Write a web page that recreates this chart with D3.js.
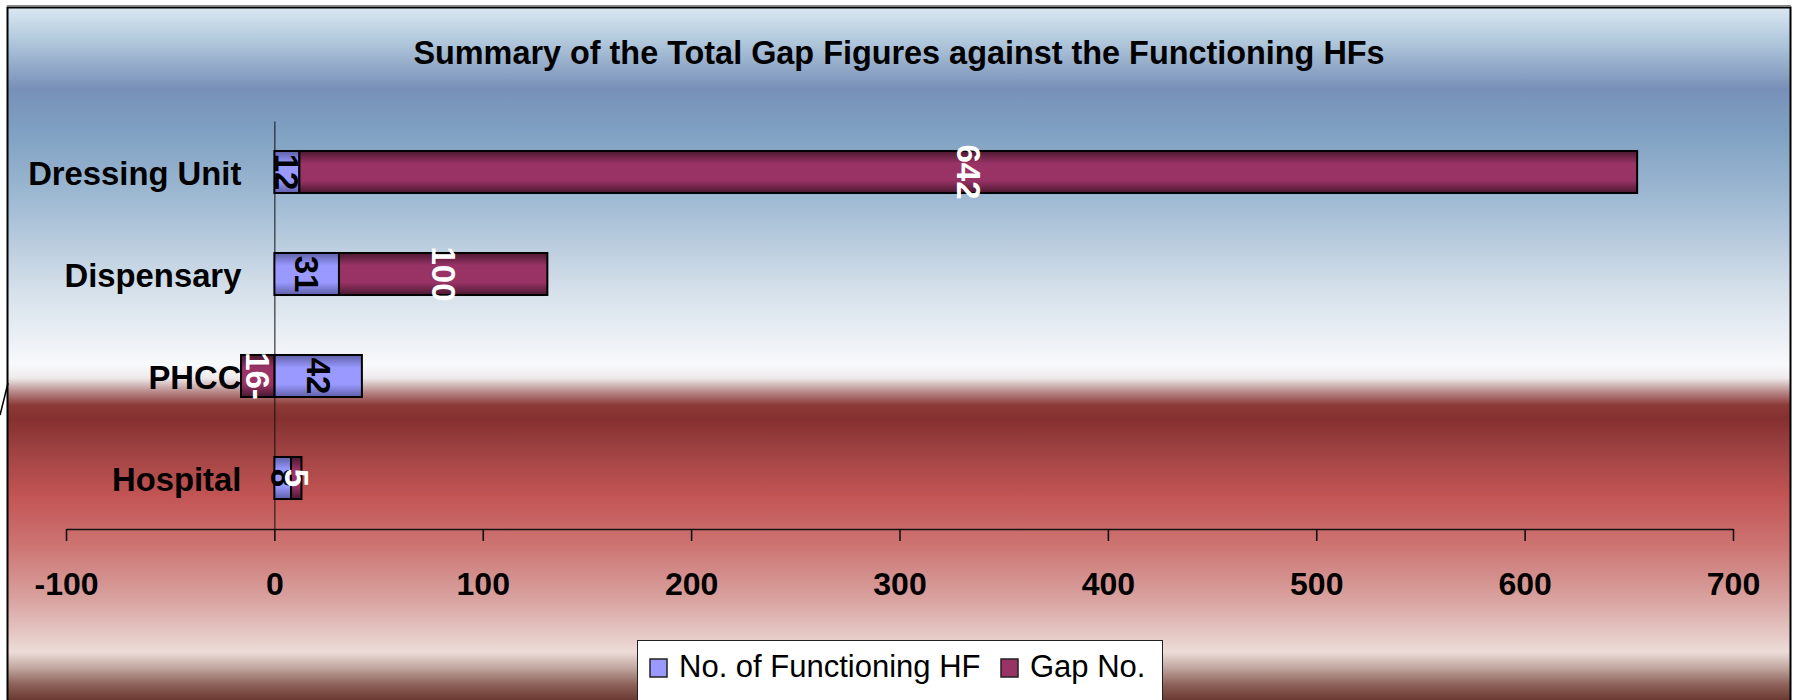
<!DOCTYPE html>
<html>
<head>
<meta charset="utf-8">
<script src="https://cdn.jsdelivr.net/npm/d3@7/dist/d3.min.js"></script>
<style>
  body { margin: 0; background: #fff; }
  svg { display: block; font-family: "Liberation Sans", Arial, sans-serif; }
  .axis text { font-size: 32px; font-weight: bold; fill: #000; }
  .axis.y text { font-size: 32.8px; }
  .axis path, .axis line { stroke: #111; }
</style>
</head>
<body>
<div class="chart"></div>
<script>
// Data
const categories = ["Dressing Unit", "Dispensary", "PHCC", "Hospital"];
const functioning = [12, 31, 42, 8];
const gap = [642, 100, -16, 5];
const seriesNames = ["No. of Functioning HF", "Gap No."];
const xTicks = [-100, 0, 100, 200, 300, 400, 500, 600, 700];

// Dimensions
const W = 1800, H = 700;
const plot = {left: 66, right: 1733, top: 121, bottom: 529};

// Scales
const xScale = d3.scaleLinear()
    .domain([-100, 700])
    .range([plot.left, plot.right]);
const yScale = d3.scaleBand()
    .domain(categories)
    .range([plot.top, plot.bottom])
    .paddingInner(0.588)
    .paddingOuter(0.294);

const rows = categories.map((c, i) => ({category: c, func: functioning[i], gap: gap[i]}));
const stacked = d3.stack()
    .keys(["func", "gap"])
    .offset(d3.stackOffsetDiverging)(rows);

// Append
const svg = d3.select(".chart").append("svg")
    .attr("width", W)
    .attr("height", H);
const defs = svg.append("defs");

// background gradient, blue sky over red
const bgStops = [
  [7, "#dbe8f2"], [40, "#b2c9dd"], [89, "#7890b8"], [130, "#7fa0c2"],
  [200, "#9fbad3"], [290, "#d5e0ea"], [365, "#f8f9fb"], [378, "#eeeaec"],
  [392, "#b88888"], [405, "#8c3a38"], [418, "#853030"], [455, "#a24444"],
  [495, "#c25454"], [545, "#cc7472"], [600, "#d9a3a0"], [652, "#ecdcd8"],
  [668, "#c0a69e"], [685, "#8c6058"], [700, "#6a3a32"]
];
const bg = defs.append("linearGradient")
    .attr("id", "bg")
    .attr("gradientUnits", "userSpaceOnUse")
    .attr("x1", 0).attr("x2", 0).attr("y1", 0).attr("y2", H);
bg.selectAll("stop").data(bgStops).enter().append("stop")
    .attr("offset", d => d[0] / H)
    .attr("stop-color", d => d[1]);

// tube-like fills for the two series
const barColors = {func: ["#5f5fa8", "#9999ff"], gap: ["#4a1830", "#993366"]};
Object.keys(barColors).forEach(k => {
  const g = defs.append("linearGradient")
      .attr("id", "fill-" + k)
      .attr("x1", 0).attr("x2", 0).attr("y1", 0).attr("y2", 1);
  [[0, 0], [0.3, 1], [0.7, 1], [1, 0]].forEach(s => {
    g.append("stop").attr("offset", s[0]).attr("stop-color", barColors[k][s[1]]);
  });
});

svg.append("line")
    .attr("x1", 7).attr("x2", 1791).attr("y1", 5.5).attr("y2", 5.5)
    .attr("stroke", "#888").attr("stroke-width", 1);
svg.append("rect")
    .attr("x", 7.5).attr("y", 7.5)
    .attr("width", 1783).attr("height", 710)
    .attr("fill", "url(#bg)")
    .attr("stroke", "#000")
    .attr("stroke-width", 2);
svg.append("line")
    .attr("x1", 8).attr("y1", 383).attr("x2", 0).attr("y2", 415)
    .attr("stroke", "#000").attr("stroke-width", 1.5);

// Title
svg.append("text")
    .attr("x", 899)
    .attr("y", 64)
    .attr("text-anchor", "middle")
    .style("font-size", "32.4px")
    .style("font-weight", "bold")
    .text("Summary of the Total Gap Figures against the Functioning HFs");

// Axes
const xAxis = svg.append("g")
    .attr("class", "axis x")
    .attr("transform", "translate(0," + plot.bottom + ")")
    .call(d3.axisBottom(xScale)
      .tickValues(xTicks)
      .tickSizeInner(12)
      .tickSizeOuter(0)
      .tickPadding(31)
      .tickFormat(d => String(d)));
xAxis.select(".domain").attr("stroke-width", 1.6);
xAxis.selectAll(".tick line").attr("stroke-width", 1.6);

const yAxis = svg.append("g")
    .attr("class", "axis y")
    .attr("transform", "translate(" + xScale(0) + ",0)")
    .call(d3.axisLeft(yScale).tickSize(0).tickPadding(33));
yAxis.select(".domain").attr("stroke-width", 1);
yAxis.selectAll(".tick text").attr("y", 2);

// Bars
const layers = svg.selectAll(".layer")
    .data(stacked)
  .enter().append("g")
    .attr("class", d => "layer " + d.key);

layers.selectAll("rect")
    .data(d => d)
  .enter().append("rect")
    .attr("x", d => xScale(Math.min(d[0], d[1])))
    .attr("width", d => Math.abs(xScale(d[1]) - xScale(d[0])))
    .attr("y", d => yScale(d.data.category))
    .attr("height", yScale.bandwidth())
    .attr("fill", function(){ return "url(#fill-" + d3.select(this.parentNode).datum().key + ")"; })
    .attr("stroke", "#000")
    .attr("stroke-width", 2);

// Labels, rotated like the source
const fmt = v => v < 0 ? Math.abs(v) + "-" : String(v);
layers.selectAll("text")
    .data(d => d.map(p => ({p, key: d.key})))
  .enter().append("text")
    .attr("transform", d => {
      const cx = xScale((d.p[0] + d.p[1]) / 2);
      const cy = yScale(d.p.data.category) + yScale.bandwidth() / 2;
      return "translate(" + [cx, cy] + ") rotate(90)";
    })
    .attr("text-anchor", "middle")
    .attr("dominant-baseline", "central")
    .style("font-size", "33px")
    .style("font-weight", "bold")
    .attr("fill", d => d.key === "gap" ? "#fff" : "#000")
    .text(d => fmt(d.p.data[d.key]));

// Legend
const legend = svg.append("g").attr("class", "legend");
legend.append("rect")
    .attr("x", 637.5).attr("y", 640.5)
    .attr("width", 525).attr("height", 80)
    .attr("fill", "#fff")
    .attr("stroke", "#222")
    .attr("stroke-width", 1);
const legendX = [650, 1001];
const legendKeys = ["func", "gap"];
const item = legend.selectAll(".item")
    .data(seriesNames)
  .enter().append("g")
    .attr("class", "item")
    .attr("transform", (d, i) => "translate(" + legendX[i] + ",659)");
item.append("rect")
    .attr("width", 17).attr("height", 18)
    .attr("fill", (d, i) => barColors[legendKeys[i]][1])
    .attr("stroke", "#222")
    .attr("stroke-width", 1.5);
item.append("text")
    .attr("x", 29)
    .attr("y", 7)
    .attr("dy", "0.36em")
    .style("font-size", "31px")
    .text(d => d);
</script>
</body>
</html>
